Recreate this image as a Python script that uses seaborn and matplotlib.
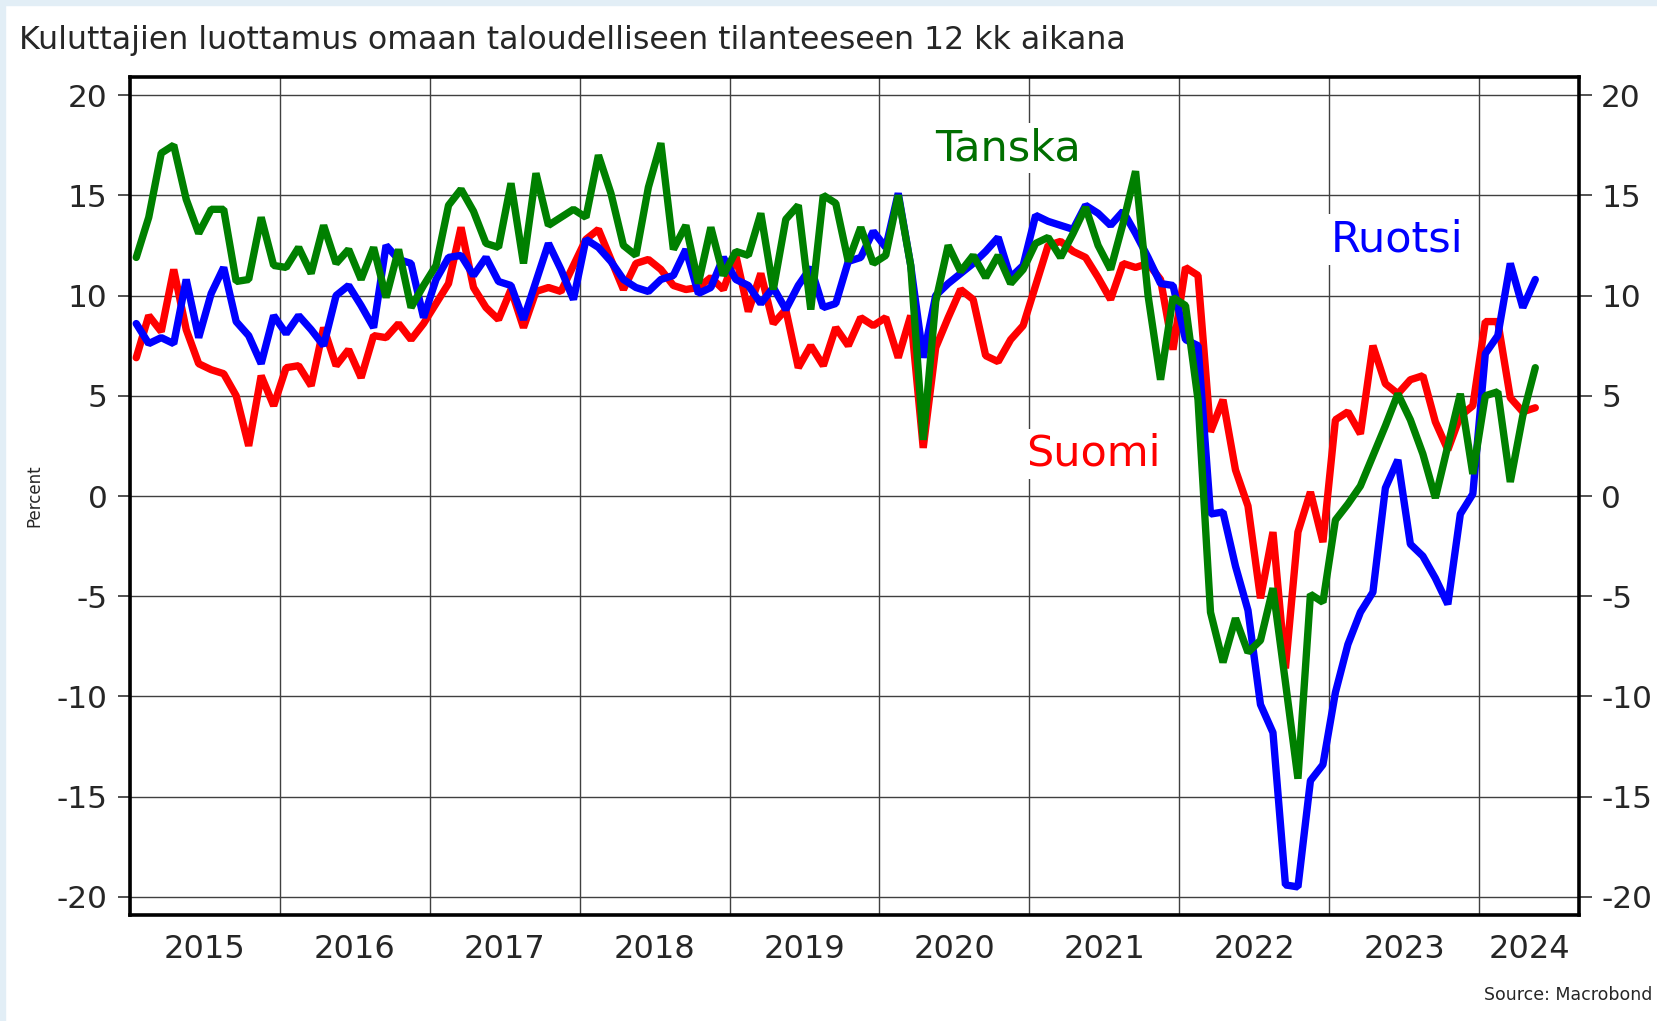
import numpy as np
import pandas as pd
import seaborn as sns
import matplotlib.pyplot as plt
from matplotlib.patches import Rectangle

# Monthly values Jan 2015 - May 2024 (percent)
suomi = [6.9, 9.0, 8.2, 11.3, 8.3, 6.6, 6.3, 6.1, 5.0, 2.5, 6.0, 4.5,
         6.4, 6.5, 5.5, 8.4, 6.5, 7.3, 5.9, 8.0, 7.9, 8.6, 7.8, 8.6,
         9.6, 10.6, 13.4, 10.4, 9.4, 8.8, 10.3, 8.4, 10.2, 10.4, 10.2, 11.5,
         12.8, 13.3, 11.8, 10.3, 11.6, 11.8, 11.3, 10.5, 10.3, 10.4, 10.9, 10.3,
         12.0, 9.2, 11.1, 8.6, 9.3, 6.4, 7.5, 6.5, 8.4, 7.5, 8.9, 8.5,
         8.9, 6.9, 9.0, 2.4, 7.4, 8.9, 10.3, 9.8, 7.0, 6.7, 7.8, 8.5,
         10.5, 12.5, 12.7, 12.2, 11.9, 10.9, 9.8, 11.6, 11.4, 11.6, 10.8, 7.3,
         11.4, 11.0, 3.2, 4.8, 1.3, -0.5, -5.1, -1.8, -8.6, -1.8, 0.2, -2.3,
         3.8, 4.2, 3.1, 7.5, 5.6, 5.1, 5.8, 6.0, 3.7, 2.3, 4.0, 4.5,
         8.7, 8.7, 4.9, 4.2, 4.4]

ruotsi = [8.6, 7.6, 7.9, 7.6, 10.8, 7.9, 10.1, 11.4, 8.7, 8.0, 6.6, 9.0,
          8.1, 9.0, 8.3, 7.5, 10.0, 10.5, 9.5, 8.4, 12.5, 11.8, 11.6, 8.9,
          10.8, 11.9, 12.0, 11.0, 11.9, 10.7, 10.5, 8.8, 10.7, 12.6, 11.3, 9.8,
          12.8, 12.4, 11.7, 10.8, 10.4, 10.2, 10.8, 11.0, 12.3, 10.1, 10.4, 11.9,
          10.8, 10.5, 9.6, 10.4, 9.3, 10.5, 11.4, 9.4, 9.6, 11.7, 11.9, 13.2,
          12.4, 15.1, 11.5, 6.9, 10.0, 10.6, 11.1, 11.6, 12.2, 12.9, 10.9, 11.5,
          14.0, 13.7, 13.5, 13.3, 14.5, 14.1, 13.5, 14.2, 13.1, 11.9, 10.6, 10.5,
          7.8, 7.5, -0.9, -0.8, -3.5, -5.7, -10.4, -11.8, -19.4, -19.5, -14.2, -13.4,
          -9.8, -7.4, -5.8, -4.8, 0.4, 1.8, -2.4, -3.0, -4.1, -5.4, -0.9, 0.1,
          7.1, 8.0, 11.6, 9.4, 10.8]

tanska = [11.9, 13.9, 17.1, 17.5, 14.8, 13.1, 14.3, 14.3, 10.7, 10.8, 13.9, 11.5,
          11.4, 12.4, 11.1, 13.5, 11.6, 12.3, 10.8, 12.4, 9.9, 12.3, 9.4, 10.5,
          11.5, 14.5, 15.3, 14.2, 12.6, 12.4, 15.6, 11.6, 16.1, 13.5, 13.9, 14.3,
          13.9, 17.0, 15.1, 12.5, 12.0, 15.4, 17.6, 12.3, 13.5, 10.6, 13.4, 11.0,
          12.2, 12.0, 14.1, 10.3, 13.8, 14.5, 9.3, 15.0, 14.6, 11.7, 13.4, 11.6,
          12.0, 15.0, 11.5, 2.8, 9.7, 12.5, 11.2, 12.0, 10.9, 12.0, 10.6, 11.3,
          12.6, 12.9, 11.9, 13.1, 14.4, 12.5, 11.3, 13.6, 16.2, 10.0, 5.8, 9.9,
          9.5, 4.8, -5.8, -8.3, -6.1, -7.8, -7.2, -4.6, -9.3, -14.1, -4.9, -5.3,
          -1.2, -0.4, 0.5, 2.0, 3.5, 5.1, 3.8, 2.1, -0.1, 2.5, 5.1, 1.1,
          5.0, 5.2, 0.7, 4.0, 6.4]

years = list(range(2015, 2025))
year_labels = [str(y) for y in years]

# month midpoints as decimal years
x = 2015 + (np.arange(len(suomi)) + 0.5) / 12
df = pd.concat([
    pd.DataFrame({'x': x, 'arvo': suomi, 'maa': 'Suomi'}),
    pd.DataFrame({'x': x, 'arvo': ruotsi, 'maa': 'Ruotsi'}),
    pd.DataFrame({'x': x, 'arvo': tanska, 'maa': 'Tanska'}),
])

sns.set_style('white')
plt.rcParams['font.family'] = ['DejaVu Sans']
plt.rcParams['axes.unicode_minus'] = False
plt.rcParams['lines.solid_joinstyle'] = 'bevel'

fig = plt.figure(figsize=(16.57, 10.21), dpi=100)
# light blue frame strips at top and left
fig.patches.append(Rectangle((0, 0), 5 / 1657, 1, transform=fig.transFigure,
                             color='#e2eef6', zorder=0))
fig.patches.append(Rectangle((0, 1 - 5 / 1021), 1, 5 / 1021, transform=fig.transFigure,
                             color='#e2eef6', zorder=0))

ax = fig.add_axes([130 / 1657, 1 - 915 / 1021, 1449 / 1657, 838 / 1021])

colors = {'Suomi': '#ff0000', 'Ruotsi': '#0000ff', 'Tanska': '#008000'}
sns.lineplot(data=df, x='x', y='arvo', hue='maa', hue_order=['Suomi', 'Ruotsi', 'Tanska'],
             palette=colors, linewidth=5.3, legend=False, ax=ax, zorder=3)

ax.set_xlim(2015, 2024 + 8 / 12)
ax.set_ylim(-20.9, 20.9)

# x: year boundaries as major ticks, labels centred in each year
ax.set_xticks(years)
ax.set_xticklabels([])
label_pos = [y + 0.5 for y in years[:-1]] + [2024 + 4 / 12]
ax.set_xticks(label_pos, minor=True)
ax.set_xticklabels(year_labels, minor=True)
ax.tick_params(axis='x', which='major', length=9, width=1.2, color='#333333', direction='out')
ax.tick_params(axis='x', which='minor', length=0, pad=14, labelsize=23)

ax.set_yticks(range(-20, 21, 5))
ax.tick_params(axis='y', which='major', left=True, right=True, labelleft=True, labelright=True,
               length=9, width=1.2, color='#333333', direction='out', pad=7, labelsize=22.5)

ax.grid(True, which='major', color='#404040', linewidth=1)
ax.set_axisbelow(True)
for s in ax.spines.values():
    s.set_linewidth(2.6)
    s.set_color('black')

ax.set_xlabel('')
ax.set_ylabel('')
fig.text(34 / 1657, 1 - 496 / 1021, 'Percent', rotation=90, ha='center', va='center', fontsize=12)

# series labels
box = dict(facecolor='white', edgecolor='none', pad=3)
ax.text(2020.86, 17.35, 'Tanska', color='#006f00', fontsize=31, ha='center', va='center', bbox=box, zorder=4)
ax.text(2023.45, 12.8, 'Ruotsi', color='#0000ff', fontsize=31, ha='center', va='center', bbox=box, zorder=4)
ax.text(2021.43, 2.1, 'Suomi', color='#ff0000', fontsize=31, ha='center', va='center', bbox=box, zorder=4)

fig.text(19 / 1657, 1 - 49 / 1021, 'Kuluttajien luottamus omaan taloudelliseen tilanteeseen 12 kk aikana',
         ha='left', va='baseline', fontsize=22.8)
fig.text(1652 / 1657, 1 - 1000 / 1021, 'Source: Macrobond', ha='right', va='baseline', fontsize=12.5)

fig.savefig('out.png', dpi=100)
